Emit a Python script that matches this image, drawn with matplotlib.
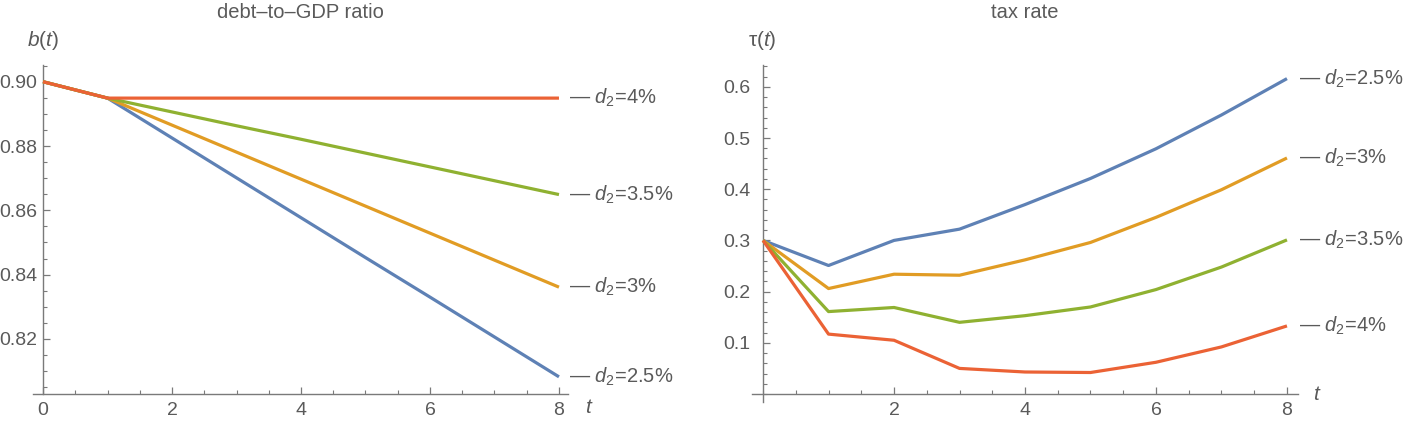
import matplotlib
matplotlib.use('Agg')
import matplotlib.pyplot as plt
from matplotlib.ticker import MultipleLocator, FixedLocator, FormatStrFormatter
import matplotlib.transforms as mtransforms

plt.rcParams['font.family'] = ['Liberation Sans', 'DejaVu Sans']
plt.rcParams['mathtext.fontset'] = 'custom'
plt.rcParams['mathtext.rm'] = 'Liberation Sans'
plt.rcParams['mathtext.it'] = 'Liberation Sans:italic'

# ---------------- data ----------------
t = [0, 1, 2, 3, 4, 5, 6, 7, 8]
d2_labels = ['2.5', '3', '3.5', '4']

debt_d25 = [0.9000, 0.8949, 0.8825, 0.8701, 0.8577, 0.8453, 0.8330, 0.8206, 0.8082]
debt_d30 = [0.9000, 0.8949, 0.8865, 0.8781, 0.8697, 0.8613, 0.8529, 0.8445, 0.8361]
debt_d35 = [0.9000, 0.8949, 0.8906, 0.8863, 0.8821, 0.8778, 0.8735, 0.8692, 0.8649]
debt_d40 = [0.9000, 0.8949, 0.8949, 0.8949, 0.8949, 0.8949, 0.8949, 0.8949, 0.8949]

tax_d25 = [0.300, 0.251, 0.300, 0.322, 0.370, 0.421, 0.479, 0.545, 0.616]
tax_d30 = [0.300, 0.206, 0.234, 0.232, 0.262, 0.296, 0.345, 0.399, 0.461]
tax_d35 = [0.300, 0.161, 0.169, 0.140, 0.153, 0.170, 0.204, 0.248, 0.301]
tax_d40 = [0.300, 0.117, 0.105, 0.050, 0.043, 0.042, 0.062, 0.092, 0.133]

colors = ['#5E81B5', '#E19C24', '#8FB131', '#EB6235']
text_gray = '#5a5a5a'
axis_gray = '#7a7a7a'

W, H = 1406, 437
fig = plt.figure(figsize=(W / 100, H / 100), dpi=100)

ax1 = fig.add_axes([32.7 / W, (H - 394) / H, 535.3 / W, (394 - 65) / H])
ax2 = fig.add_axes([751.9 / W, (H - 402) / H, 546.2 / W, (402 - 65) / H])

debt = [debt_d25, debt_d30, debt_d35, debt_d40]
tax = [tax_d25, tax_d30, tax_d35, tax_d40]

for series, c in zip(debt, colors):
    ax1.plot(t, series, color=c, lw=2.3, solid_capstyle='butt', zorder=3)
for series, c in zip(tax, colors):
    ax2.plot(t, series, color=c, lw=2.3, solid_capstyle='butt', zorder=3)

ax1.set_xlim(-0.16, 8.14)
ax1.set_ylim(0.80286, 0.9052)
ax2.set_xlim(-0.17, 8.17)
ax2.set_ylim(-0.0156, 0.6426)

for ax in (ax1, ax2):
    for s in ('top', 'right'):
        ax.spines[s].set_visible(False)
    for s in ('left', 'bottom'):
        ax.spines[s].set_color(axis_gray)
        ax.spines[s].set_linewidth(1.0)
    ax.spines['left'].set_position(('data', 0))
    ax.patch.set_alpha(0)
    ax.tick_params(which='both', direction='in', color=axis_gray, labelcolor=text_gray,
                   labelsize=14)
    ax.tick_params(which='major', length=5, width=0.9)
    ax.tick_params(which='minor', length=3, width=0.8)
    ax.xaxis.set_minor_locator(MultipleLocator(0.5))

ax2.spines['bottom'].set_position(('data', 0))

ax1.xaxis.set_major_locator(FixedLocator([0, 2, 4, 6, 8]))
ax1.yaxis.set_major_locator(FixedLocator([0.82, 0.84, 0.86, 0.88, 0.90]))
ax1.yaxis.set_major_formatter(FormatStrFormatter('%.2f'))
ax1.yaxis.set_minor_locator(MultipleLocator(0.005))
ax1.tick_params(axis='x', which='major', pad=6)
ax1.tick_params(axis='y', which='major', pad=4)

ax2.xaxis.set_major_locator(FixedLocator([2, 4, 6, 8]))
ax2.yaxis.set_major_locator(FixedLocator([0.1, 0.2, 0.3, 0.4, 0.5, 0.6]))
ax2.yaxis.set_major_formatter(FormatStrFormatter('%.1f'))
ax2.yaxis.set_minor_locator(MultipleLocator(0.02))
ax2.tick_params(axis='x', which='major', pad=6)
ax2.tick_params(axis='y', which='major', pad=9)

# end-of-line labels
for series, lab in zip(debt, d2_labels):
    ax1.text(8.16, series[-1], '— $d_2$=' + lab + '%', color=text_gray, fontsize=14.5,
             ha='left', va='center', clip_on=False)
for series, lab in zip(tax, d2_labels):
    ax2.text(8.18, series[-1], '— $d_2$=' + lab + '%', color=text_gray, fontsize=14.5,
             ha='left', va='center', clip_on=False)

# axis labels
tr1 = mtransforms.blended_transform_factory(ax1.transData, ax1.transAxes)
ax1.text(8.47, -0.012, '$t$', transform=tr1, color=text_gray, fontsize=15,
         ha='center', va='top', clip_on=False)
ax2.text(8.47, 0.0, '$t$', color=text_gray, fontsize=15,
         ha='center', va='center', clip_on=False)

fig.text(43 / W, 1 - 40 / H, '$b$($t$)', color=text_gray, fontsize=15, ha='center', va='center')
fig.text(762 / W, 1 - 40 / H, 'τ($t$)', color=text_gray, fontsize=15, ha='center', va='center')

# titles
fig.text(300 / W, 1 - 3 / H, 'debt–to–GDP ratio', color=text_gray, fontsize=14.5,
         ha='center', va='top')
fig.text(1025 / W, 1 - 3 / H, 'tax rate', color=text_gray, fontsize=14.5,
         ha='center', va='top')

fig.savefig('out.png', dpi=100)
